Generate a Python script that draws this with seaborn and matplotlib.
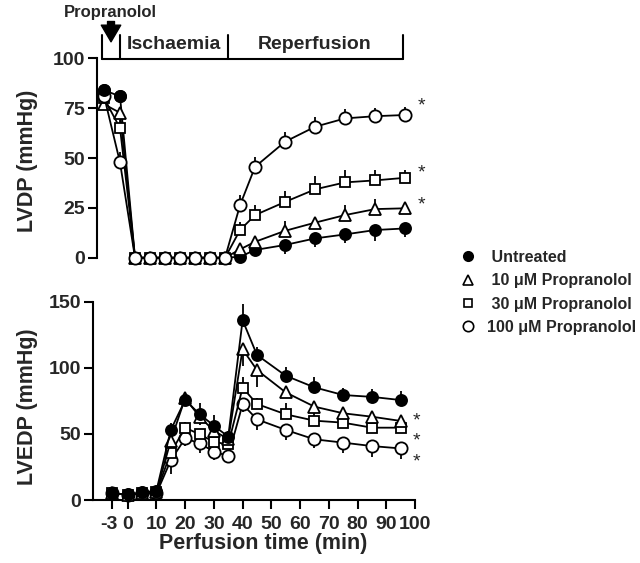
import numpy as np
import pandas as pd
import matplotlib
matplotlib.use("Agg")
import matplotlib.pyplot as plt
import matplotlib.transforms as mtransforms
import seaborn as sns
from matplotlib.lines import Line2D

sns.set_theme(style="ticks")
plt.rcParams['font.family'] = ['Liberation Sans', 'DejaVu Sans']
plt.rcParams['font.weight'] = 'bold'
plt.rcParams['axes.labelweight'] = 'bold'

# 時間點 (min); -3 is drawn on a compressed position like the original
times = [-3, 0, 5, 10, 15, 20, 25, 30, 35, 40, 45, 55, 65, 75, 85, 95]
x_ticks = [-3, 0, 10, 20, 30, 40, 50, 60, 70, 80, 90, 100]
groups = ['Untreated', '10 \u03bcM Propranolol', '30 \u03bcM Propranolol', '100 \u03bcM Propranolol']

# LVDP (mmHg)
lvdp_untreated = [84, 81, 0, 0, 0, 0, 0, 0, 0, 0.5, 3.9, 6.4, 9.7, 11.7, 13.9, 14.7]
lvdp_p10 = [77, 72.7, 0, 0, 0, 0, 0, 0, 0, 4.2, 8, 13.5, 17.6, 21.4, 24.4, 24.8]
lvdp_p30 = [80, 65, 0, 0, 0, 0, 0, 0, 0, 13.9, 21.4, 28, 34.3, 37.8, 38.8, 40.1]
lvdp_p100 = [81, 47.8, 0, 0, 0, 0, 0, 0, 0, 26.4, 45.6, 58.2, 65.7, 69.9, 71, 71.6]
lvdp_err_untreated = [2, 2, 0, 0, 0, 0, 0, 0, 0, 1, 2.5, 4.7, 4.5, 4.5, 5.3, 4.2]
lvdp_err_p10 = [2, 3, 0, 0, 0, 0, 0, 0, 0, 2, 2, 5, 3, 5, 5, 3.3]
lvdp_err_p30 = [2, 4, 0, 0, 0, 0, 0, 0, 0, 4.2, 5, 5.3, 6.7, 6.2, 5, 3.7]
lvdp_err_p100 = [2, 5, 0, 0, 0, 0, 0, 0, 0, 5, 5, 5, 5, 4.7, 4, 4]

# LVEDP (mmHg)
lvedp_untreated = [5, 4.3, 5.8, 7, 53, 75.6, 65, 56.2, 47.9, 136, 109.7, 94, 85.2, 79.4, 78, 75.6]
lvedp_p10 = [5, 4, 5, 6, 45, 77, 63, 52.4, 46, 114, 98.3, 81.4, 70.6, 65.6, 63, 59.8]
lvedp_p30 = [5, 4, 5, 6, 35.8, 54.7, 49.7, 44, 42, 85, 72.6, 64.8, 60, 58.5, 54.7, 54.7]
lvedp_p100 = [5, 4, 5, 5, 30, 46.6, 42.9, 36.6, 33.3, 72.4, 61, 53, 45.9, 43.4, 40.8, 39]
lvedp_err_untreated = [1, 1, 1, 2, 5.5, 3, 8.6, 8, 4, 12.6, 5.8, 6.3, 7.6, 5, 5.8, 6.8]
lvedp_err_p10 = [1, 1, 1, 2, 6, 3, 6, 6, 4, 13, 12.6, 4.5, 5, 5, 7.6, 5]
lvedp_err_p30 = [1, 1, 1, 2, 5, 4, 4, 5, 4, 7.8, 4.3, 8.3, 5.5, 5.8, 5, 4]
lvedp_err_p100 = [1, 1, 1, 2, 10, 6, 7.5, 6.3, 5, 6, 8, 7.6, 6.8, 8, 8, 8]

BREAK = -5.3  # where -3 min sits on the axis


def xpos(t):
    t = np.asarray(t, dtype=float)
    return np.where(t < 0, BREAK, t)


styles = [('o', 'black', 8.0), ('^', 'white', 8.5), ('s', 'white', 7.5), ('o', 'white', 8.8)]

fig = plt.figure(figsize=(6.4, 5.63), dpi=100)
ax1 = fig.add_axes([97/640, 0.5245, 333/640, 0.3895])
ax2 = fig.add_axes([93/640, 0.1119, 327.7/640, 0.364])


def draw(ax, vals, errs, signs, order):
    for k, i in enumerate(order):
        m, fc, ms = styles[i]
        xp = xpos(times)
        y = np.asarray(vals[i])
        e = np.asarray(errs[i]) * signs[i]
        ax.vlines(xp, y, y + e, color='black', lw=1.3, zorder=2, clip_on=False)
        sns.lineplot(x=xp, y=y, ax=ax, color='black', marker=m, markersize=ms,
                     markerfacecolor=fc, markeredgecolor='black', markeredgewidth=1.3,
                     linewidth=1.3, errorbar=None, zorder=3 + k, clip_on=False)


draw(ax1, [lvdp_untreated, lvdp_p10, lvdp_p30, lvdp_p100],
     [lvdp_err_untreated, lvdp_err_p10, lvdp_err_p30, lvdp_err_p100], [-1, 1, 1, 1], [0, 1, 2, 3])
draw(ax2, [lvedp_untreated, lvedp_p10, lvedp_p30, lvedp_p100],
     [lvedp_err_untreated, lvedp_err_p10, lvedp_err_p30, lvedp_err_p100], [1, -1, 1, -1], [3, 2, 1, 0])

# untreated baseline points sit on top before ischaemia
pre = np.asarray(times) < 5
ax1.plot(xpos(times)[pre], np.asarray(lvdp_untreated)[pre], ls='none', marker='o', ms=8.0,
         mfc='black', mec='black', mew=1.3, zorder=10, clip_on=False)

# top panel
ax1.set_xlim(-7.67, 103.3)
ax1.set_ylim(-5, 105)
ax1.set_yticks([0, 25, 50, 75, 100])
ax1.set_xticks([])
sns.despine(ax=ax1, bottom=True)
ax1.spines['left'].set_bounds(0, 100)
ax1.set_xlabel('')
ax1.set_ylabel('LVDP (mmHg)', fontsize=15.5, fontweight='bold')
ax1.yaxis.set_label_coords(28/640, 1 - 161/563, transform=fig.transFigure)
ax1.yaxis.label.set_va('center')

# bracket with phases
bx = [-6.1, 0, 36, 94.4]
ax1.plot([bx[0], bx[-1]], [99.5, 99.5], color='black', lw=1.5, clip_on=False)
for b in bx:
    ax1.plot([b, b], [99.5, 111.5], color='black', lw=1.5, clip_on=False)
ax1.text(18, 107.2, 'Ischaemia', ha='center', va='center', fontsize=14, fontweight='bold')
ax1.text(65, 107.2, 'Reperfusion', ha='center', va='center', fontsize=14, fontweight='bold')
ax1.text(-3.3, 123, 'Propranolol', ha='center', va='center', fontsize=12, fontweight='bold')
ax1.annotate('', xy=(-3, 108.3), xytext=(-3, 118.5), annotation_clip=False,
             arrowprops=dict(facecolor='black', edgecolor='black', width=5, headwidth=14, headlength=12))

for yv in [76, 42.5, 26.5]:
    ax1.text(99.3, yv, '*', ha='left', va='center', fontsize=14, fontweight='normal')

# bottom panel
ax2.set_xlim(-12.08, 102)
ax2.set_ylim(0, 155)
ax2.set_yticks([0, 50, 100, 150])
ax2.set_xticks(xpos(x_ticks))
ax2.set_xticklabels([str(t) for t in x_ticks])
sns.despine(ax=ax2)
ax2.spines['left'].set_bounds(0, 150)
ax2.spines['bottom'].set_bounds(-12.08, 100)
ax2.set_ylabel('LVEDP (mmHg)', fontsize=15.5, fontweight='bold')
ax2.yaxis.set_label_coords(28/640, 1 - 407/563, transform=fig.transFigure)
ax2.yaxis.label.set_va('center')
ax2.set_xlabel('Perfusion time (min)', fontsize=15.5, fontweight='bold')
ax2.xaxis.set_label_coords(263.5/640, 1 - 543/563, transform=fig.transFigure)
ax2.xaxis.label.set_va('center')

for yv in [59.7, 44.7, 28.7]:
    ax2.text(100.6, yv, '*', ha='center', va='center', fontsize=14, fontweight='normal')

for ax in (ax1, ax2):
    for s in ax.spines.values():
        s.set_linewidth(1.5)
        s.set_color('black')
    ax.tick_params(direction='out', length=6.5, width=1.5, color='black', labelsize=14, pad=2)
    ax.set_facecolor('white')
    for lab in ax.get_xticklabels() + ax.get_yticklabels():
        lab.set_fontweight('bold')
ax2.tick_params(axis='x', pad=5)
# the "-3" label sits a bit left of its tick in the original
lab0 = ax2.get_xticklabels()[0]
lab0.set_transform(lab0.get_transform() + mtransforms.ScaledTranslation(-4/100, 0, fig.dpi_scale_trans))

handles = [Line2D([], [], ls='none', marker=m, markersize=ms * 0.85, markerfacecolor=fc,
                  markeredgecolor='black', markeredgewidth=1.2) for m, fc, ms in styles]
labels = [' ' + groups[0], ' ' + groups[1], ' ' + groups[2], groups[3]]
fig.legend(handles, labels, loc='upper left', bbox_to_anchor=(460/640, 1 - 250/563),
           frameon=False, prop=dict(weight='bold', size=11.5), handlelength=1.0,
           handletextpad=0.7, labelspacing=0.52, borderpad=0, borderaxespad=0)

fig.savefig('out.png', dpi=100, facecolor='white')
